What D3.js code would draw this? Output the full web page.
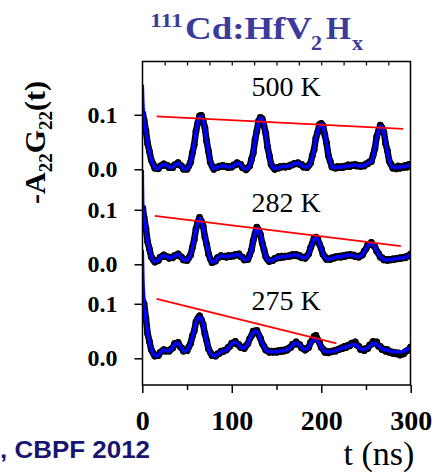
<!DOCTYPE html>
<html>
<head>
<meta charset="utf-8">
<script src="https://cdn.jsdelivr.net/npm/d3@7"></script>
<style>
    body { margin: 0; background: #fff; }
    svg { display: block; }
</style>
</head>
<body>
<svg id="chart" width="436" height="474"></svg>
<script>
// time grid of the spectra (ns)
var timeNs = [0, 0.6,
    2, 4, 6, 8, 10, 12, 14, 16, 18, 20,
    22, 24, 26, 28, 30, 32, 34, 36, 38, 40,
    42, 44, 46, 48, 50, 52, 54, 56, 58, 60,
    62, 64, 66, 68, 70, 72, 74, 76, 78, 80,
    82, 84, 86, 88, 90, 92, 94, 96, 98, 100,
    102, 104, 106, 108, 110, 112, 114, 116, 118, 120,
    122, 124, 126, 128, 130, 132, 134, 136, 138, 140,
    142, 144, 146, 148, 150, 152, 154, 156, 158, 160,
    162, 164, 166, 168, 170, 172, 174, 176, 178, 180,
    182, 184, 186, 188, 190, 192, 194, 196, 198, 200,
    202, 204, 206, 208, 210, 212, 214, 216, 218, 220,
    222, 224, 226, 228, 230, 232, 234, 236, 238, 240,
    242, 244, 246, 248, 250, 252, 254, 256, 258, 260,
    262, 264, 266, 268, 270, 272, 274, 276, 278, 280,
    282, 284, 286, 288, 290, 292, 294, 296, 298, 300];

// -A22G22(t) values in units of 1e-3
var fit500 = [155, 122,
    92, 70, 49, 31, 18, 9, 3, 1, 2, 5,
    8, 9, 8, 6, 4, 3, 4, 7, 10, 11,
    9, 5, 1, 0, 1, 5, 14, 28, 47, 68,
    86, 96, 97, 90, 74, 53, 32, 15, 5, 1,
    2, 4, 5, 6, 6, 6, 5, 4, 4, 5,
    7, 9, 11, 11, 8, 4, 1, 0, 2, 7,
    17, 32, 52, 72, 87, 94, 92, 82, 64, 43,
    24, 10, 3, 1, 2, 3, 4, 5, 5, 5,
    5, 6, 7, 9, 10, 11, 11, 10, 8, 5,
    4, 4, 6, 12, 23, 38, 55, 70, 80, 83,
    78, 65, 46, 27, 13, 5, 3, 3, 4, 4,
    4, 4, 5, 6, 6, 6, 7, 8, 8, 7,
    6, 6, 6, 7, 9, 11, 12, 15, 24, 40,
    58, 72, 79, 77, 66, 49, 31, 17, 8, 4,
    3, 3, 4, 4, 4, 5, 5, 6, 7, 8];
var data500 = [null, 102,
    90, 71, 47, 33, 17, 10, 2, 2, 1, 6,
    7, 10, 7, 7, 3, 4, 3, 8, 9, 12,
    8, 6, 0, 1, 0, 6, 13, 30, 45, 70,
    85, 98, 99, 89, 76, 51, 33, 13, 6, 0,
    3, 3, 6, 5, 7, 5, 6, 3, 5, 4,
    8, 8, 12, 10, 9, 3, 2, -1, 3, 6,
    18, 30, 54, 70, 89, 95, 93, 80, 66, 41,
    25, 9, 4, 0, 3, 2, 5, 4, 6, 4,
    6, 5, 8, 8, 11, 10, 12, 9, 9, 4,
    5, 3, 7, 11, 25, 36, 57, 68, 82, 84,
    80, 63, 48, 25, 15, 4, 4, 2, 5, 3,
    5, 3, 6, 5, 8, 5, 8, 7, 9, 6,
    7, 5, 7, 6, 10, 10, 14, 14, 26, 38,
    60, 70, 81, 76, 68, 47, 34, 15, 9, 2,
    4, 1, 6, 2, 5, 3, 7, 4, 9, 6];

var fit282 = [173, 105,
    88, 64, 43, 27, 15, 8, 5, 5, 8, 12,
    15, 16, 15, 13, 12, 12, 13, 15, 17, 18,
    16, 12, 9, 7, 8, 11, 18, 30, 46, 63,
    78, 84, 80, 68, 52, 35, 20, 9, 4, 4,
    7, 11, 14, 15, 15, 14, 14, 15, 15, 15,
    16, 17, 18, 17, 15, 12, 9, 8, 10, 16,
    27, 42, 57, 66, 64, 54, 40, 26, 15, 8,
    6, 6, 8, 10, 12, 13, 13, 14, 14, 14,
    15, 15, 16, 17, 17, 17, 16, 15, 13, 12,
    12, 14, 20, 29, 39, 46, 49, 46, 38, 28,
    19, 13, 10, 9, 10, 11, 12, 13, 14, 14,
    14, 15, 15, 16, 17, 17, 17, 16, 15, 14,
    14, 15, 18, 23, 29, 34, 37, 38, 36, 31,
    25, 19, 14, 11, 9, 8, 8, 8, 9, 9,
    10, 10, 11, 11, 12, 12, 13, 14, 16, 18];
var data282 = [null, 103,
    86, 66, 41, 28, 14, 9, 4, 6, 7, 13,
    14, 17, 14, 14, 11, 13, 12, 16, 16, 19,
    15, 13, 8, 8, 7, 12, 17, 31, 45, 65,
    77, 86, 79, 70, 50, 36, 19, 10, 3, 5,
    6, 12, 13, 16, 14, 15, 13, 16, 14, 16,
    15, 18, 17, 19, 14, 13, 8, 9, 9, 17,
    26, 44, 56, 68, 63, 55, 39, 27, 14, 9,
    5, 7, 7, 11, 11, 14, 12, 15, 13, 15,
    14, 16, 15, 18, 16, 18, 15, 16, 12, 13,
    11, 15, 19, 30, 38, 48, 50, 47, 37, 29,
    18, 14, 9, 10, 9, 12, 11, 14, 13, 15,
    13, 16, 14, 17, 16, 18, 16, 17, 14, 15,
    13, 16, 17, 24, 28, 36, 36, 40, 35, 32,
    24, 20, 13, 12, 8, 9, 7, 9, 8, 10,
    9, 11, 10, 12, 11, 13, 12, 15, 15, 19];

var fit275 = [199, 150,
    105, 72, 47, 29, 17, 9, 5, 4, 6, 10,
    14, 15, 14, 13, 14, 16, 20, 25, 28, 27,
    23, 18, 14, 13, 15, 20, 28, 39, 52, 65,
    74, 76, 72, 61, 46, 31, 18, 10, 6, 4,
    5, 7, 10, 12, 13, 14, 16, 19, 23, 27,
    29, 29, 27, 24, 21, 19, 19, 22, 28, 35,
    42, 48, 50, 49, 44, 36, 28, 21, 16, 13,
    12, 12, 12, 12, 12, 13, 13, 14, 14, 15,
    16, 18, 21, 24, 27, 28, 27, 24, 20, 17,
    16, 17, 21, 27, 32, 35, 35, 32, 27, 21,
    16, 13, 12, 12, 12, 13, 13, 14, 15, 17,
    18, 19, 20, 21, 22, 24, 25, 25, 25, 23,
    20, 17, 16, 16, 17, 19, 22, 25, 27, 27,
    26, 23, 20, 18, 16, 15, 15, 14, 13, 12,
    12, 12, 12, 12, 12, 13, 14, 16, 18, 20];
var data275 = [null, 105,
    100, 74, 45, 31, 16, 10, 4, 5, 5, 11,
    13, 16, 13, 14, 13, 17, 19, 27, 27, 29,
    22, 19, 13, 14, 14, 21, 27, 41, 50, 67,
    73, 78, 71, 62, 45, 32, 17, 11, 5, 5,
    4, 8, 9, 13, 12, 15, 15, 20, 22, 28,
    28, 31, 26, 25, 20, 20, 18, 23, 27, 36,
    41, 50, 50, 51, 43, 37, 27, 22, 15, 14,
    11, 13, 11, 13, 11, 14, 12, 15, 13, 16,
    15, 19, 20, 26, 26, 30, 26, 25, 19, 18,
    15, 18, 20, 29, 33, 40, 42, 34, 29, 20,
    17, 11, 13, 10, 12, 12, 14, 13, 16, 16,
    19, 18, 22, 20, 24, 23, 28, 27, 30, 24,
    22, 16, 17, 14, 18, 18, 24, 26, 31, 28,
    30, 22, 22, 16, 17, 13, 16, 11, 12, 9,
    11, 8, 10, 6, 9, 8, 12, 14, 16, 21];

// red envelope lines: [t (ns), value]
var red500 = [[16, 0.097], [291.5, 0.074]];
var red282 = [[14, 0.089], [289, 0.0335]];
var red275 = [[16, 0.109], [217, 0.0275]];

var tempLabels = ["500 K", "282 K", "275 K"];
var yTickLabels = ["0.0", "0.1"];
var xTickValues = [0, 100, 200, 300];

var SERIF = "Liberation Serif";
var SANS = "Liberation Sans";

function makeChart() {
    var left = 142.5, right = 410.5, top = 61.5, bottom = 385;

    var svg = d3.select("#chart");

    var xScale = d3.scaleLinear().domain([0, 300]).range([142.3, 410.7]);
    var yScale = d3.scaleLinear().domain([-0.049, 0.5446]).range([bottom, top]);

    // vertical shift of each stacked spectrum, and where its label sits
    var shifts = [0.3468, 0.1725, 0];
    var labelLift = [0.1336, 0.096, 0.0886];

    var panels = [
        {fit: fit500, data: data500, red: red500},
        {fit: fit282, data: data282, red: red282},
        {fit: fit275, data: data275, red: red275}
    ];

    svg.append("clipPath").attr("id", "plotclip")
        .append("rect")
        .attr("x", left).attr("y", top)
        .attr("width", right - left).attr("height", bottom - top);

    var plot = svg.append("g").attr("clip-path", "url(#plotclip)");

    panels.forEach(function (p, i) {
        var sh = shifts[i];
        var pts = timeNs.map(function (t, k) {
            return {t: t, d: p.data[k], f: p.fit[k]};
        });
        var dataPts = pts.filter(function (d) { return d.d !== null; });

        var dataLine = d3.line()
            .x(function (d) { return xScale(d.t); })
            .y(function (d) { return yScale(d.d / 1000 + sh); });
        var fitLine = d3.line()
            .x(function (d) { return xScale(d.t); })
            .y(function (d) { return yScale(d.f / 1000 + sh); })
            .curve(d3.curveMonotoneX);

        plot.append("path")
            .datum(dataPts)
            .attr("d", dataLine)
            .attr("fill", "none")
            .attr("stroke", "#000")
            .attr("stroke-width", 6.5)
            .attr("stroke-linejoin", "round");

        plot.append("g").selectAll("circle")
            .data(dataPts).enter().append("circle")
            .attr("cx", function (d) { return xScale(d.t); })
            .attr("cy", function (d) { return yScale(d.d / 1000 + sh); })
            .attr("r", 3.4)
            .style("fill", "#000");

        plot.append("path")
            .datum(pts)
            .attr("d", fitLine)
            .attr("fill", "none")
            .attr("stroke", "#0000ff")
            .attr("stroke-width", 3.5)
            .attr("stroke-linejoin", "round");

        plot.append("line")
            .attr("x1", xScale(p.red[0][0]))
            .attr("y1", yScale(p.red[0][1] + sh))
            .attr("x2", xScale(p.red[1][0]))
            .attr("y2", yScale(p.red[1][1] + sh))
            .attr("stroke", "#ff0000")
            .attr("stroke-width", 1.8);

        svg.append("text")
            .attr("font-family", SERIF)
            .attr("x", 286)
            .attr("y", yScale(labelLift[i] + sh))
            .attr("text-anchor", "middle")
            .attr("font-size", 28)
            .text(tempLabels[i]);

        // left ticks at 0.0 and 0.1 of each spectrum
        var yAxis = d3.axisLeft(yScale)
            .tickValues([sh, sh + 0.1])
            .tickSize(8)
            .tickPadding(17)
            .tickFormat(function (d, k) { return yTickLabels[k]; });
        var ga = svg.append("g")
            .attr("transform", "translate(" + left + ",0)")
            .call(yAxis);
        ga.attr("font-family", SERIF).attr("font-size", 24).attr("font-weight", "bold");
        ga.select(".domain").remove();
        ga.selectAll("line").attr("stroke-width", 1.5);
        ga.selectAll("text").attr("fill", "#000");
    });

    // bottom axis: labelled ticks every 100, small ones at 50
    var xAxis = d3.axisBottom(xScale)
        .tickValues(xTickValues)
        .tickSize(8)
        .tickFormat(d3.format("d"));
    var gx = svg.append("g")
        .attr("transform", "translate(0," + bottom + ")")
        .call(xAxis);
    gx.attr("font-family", SERIF).attr("font-size", 28).attr("font-weight", "bold");
    gx.select(".domain").remove();
    gx.selectAll("line").attr("stroke-width", 1.5);
    gx.selectAll("text")
        .attr("y", 45).attr("dy", null)
        .attr("fill", "#000");

    var gxm = svg.append("g")
        .attr("transform", "translate(0," + bottom + ")")
        .call(d3.axisBottom(xScale).tickValues([50, 150, 250]).tickSize(5).tickFormat(""));
    gxm.select(".domain").remove();
    gxm.selectAll("line").attr("stroke-width", 1.5);

    // top: small inward ticks every 25 ns
    var gt = svg.append("g")
        .attr("transform", "translate(0," + top + ")")
        .call(d3.axisBottom(xScale).tickValues(d3.range(25, 300, 25)).tickSize(4).tickFormat(""));
    gt.select(".domain").remove();
    gt.selectAll("line").attr("stroke-width", 1.2);

    svg.append("rect")
        .attr("x", left).attr("y", top)
        .attr("width", right - left).attr("height", bottom - top)
        .attr("fill", "none")
        .attr("stroke", "#000")
        .attr("stroke-width", 1.5);

    // title 111Cd:HfV2Hx
    var title = svg.append("text")
        .attr("font-family", SERIF)
        .attr("font-weight", "bold")
        .attr("y", 39)
        .attr("fill", "#3b3b9b");
    title.append("tspan").attr("x", 150).attr("dy", -12.5).attr("font-size", 18)
        .attr("textLength", 33).attr("lengthAdjust", "spacingAndGlyphs").text("111");
    title.append("tspan").attr("x", 185).attr("dy", 12.5).attr("font-size", 32)
        .attr("textLength", 127).attr("lengthAdjust", "spacingAndGlyphs").text("Cd:HfV");
    title.append("tspan").attr("x", 311).attr("dy", 11).attr("font-size", 22).text("2");
    title.append("tspan").attr("x", 326).attr("dy", -11).attr("font-size", 32).text("H");
    title.append("tspan").attr("x", 352).attr("dy", 11).attr("font-size", 22).text("x");

    // y axis title -A22G22(t)
    var ylab = svg.append("text")
        .attr("font-family", SERIF)
        .attr("font-weight", "bold")
        .attr("transform", "translate(45,142.5) rotate(-90)")
        .attr("text-anchor", "middle")
        .attr("fill", "#000");
    ylab.append("tspan").attr("font-size", 30).text("-A");
    ylab.append("tspan").attr("dy", 7).attr("font-size", 19).text("22");
    ylab.append("tspan").attr("dy", -7).attr("font-size", 30).text("G");
    ylab.append("tspan").attr("dy", 7).attr("font-size", 19).text("22");
    ylab.append("tspan").attr("dy", -7).attr("font-size", 30).text("(t)");

    svg.append("text")
        .attr("font-family", SERIF)
        .attr("x", 379).attr("y", 465)
        .attr("text-anchor", "middle")
        .attr("font-size", 34)
        .text("t (ns)");

    svg.append("text")
        .attr("font-family", SANS)
        .attr("font-weight", "bold")
        .attr("x", 0).attr("y", 458)
        .attr("font-size", 24)
        .attr("textLength", 150)
        .attr("lengthAdjust", "spacingAndGlyphs")
        .attr("fill", "#161670")
        .text(", CBPF 2012");
}

makeChart();
</script>
</body>
</html>
